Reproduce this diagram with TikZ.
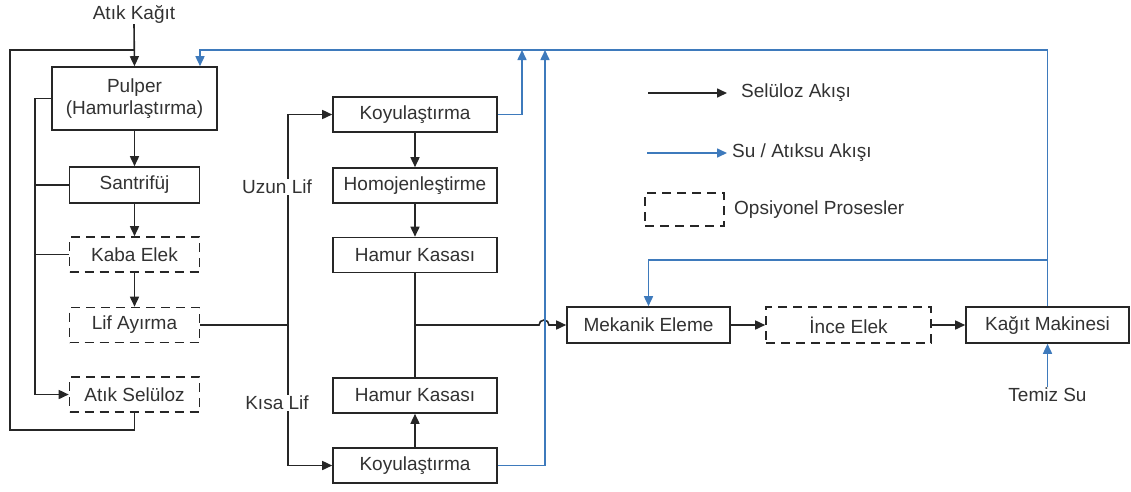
\documentclass[tikz,border=0pt]{standalone}
\usepackage{fontspec}
\setmainfont{Liberation Sans}
\usetikzlibrary{arrows.meta}
\definecolor{ink}{RGB}{38,38,38}
\definecolor{txt}{RGB}{50,50,50}
\definecolor{water}{RGB}{62,122,188}
\tikzset{
  box/.style={draw=ink, line width=1.6pt, fill=white, inner sep=0pt,
    minimum height=35pt, text=txt, font=\fontsize{19}{22}\selectfont},
  optbox/.style={box, dash pattern=on 9pt off 6pt},
  lbl/.style={text=txt, font=\fontsize{19}{22}\selectfont, inner sep=1pt},
  line/.style={draw=ink, line width=1.6pt},
  flow/.style={line, -{Triangle[length=10pt,width=9pt]}},
  wline/.style={draw=water, line width=1.6pt},
  wflow/.style={wline, -{Triangle[length=10pt,width=9pt]}},
}
\begin{document}
\begin{tikzpicture}[x=1pt,y=-1pt]
\useasboundingbox (0,0) rectangle (1131,491);

% left column
\node[lbl] (waste) at (134,14) {Atık Kağıt};
\node[box, minimum width=165pt, minimum height=63pt, align=center] (pulper) at (134.5,98.5) {Pulper\\(Hamurlaştırma)};
\node[box, minimum width=130pt, minimum height=36pt] (santri) at (134.5,185) {Santrifüj};
\node[optbox, minimum width=130pt] (kaba) at (134.5,254.5) {Kaba Elek};
\node[optbox, minimum width=130pt] (lif) at (134.5,325) {Lif Ayırma};
\node[optbox, minimum width=130pt] (atiksel) at (134.5,394.5) {Atık Selüloz};

% middle column
\node[box, minimum width=164pt] (koy1) at (415,114.5) {Koyulaştırma};
\node[box, minimum width=164pt] (homo) at (415,185.5) {Homojenleştirme};
\node[box, minimum width=164pt] (hk1) at (415,255) {Hamur Kasası};
\node[box, minimum width=164pt] (hk2) at (415,395.5) {Hamur Kasası};
\node[box, minimum width=164pt] (koy2) at (415,465.5) {Koyulaştırma};

% right row
\node[box, minimum width=163pt, minimum height=36pt] (meka) at (648.5,325) {Mekanik Eleme};
\node[optbox, minimum width=165pt, minimum height=36pt] (ince) at (848.5,325) {İnce Elek};
\node[box, minimum width=163pt, minimum height=36pt] (kagit) at (1047.5,325) {Kağıt Makinesi};
\node[lbl] (temiz) at (1047.5,395) {Temiz Su};

% helper points
\coordinate (loopb) at (10,430);
\coordinate (loopt) at (10,50);
\coordinate (split) at (288,325);
\coordinate (top) at (1047.5,50);
\coordinate (w1) at (522,50);
\coordinate (w2) at (545,50);
\coordinate (ret) at (200,50);
\coordinate (br) at (1047.5,260);

% cellulose flow, left column
\draw[flow] (waste.south) -- (pulper.north);
\draw[line] (atiksel.south) |- (loopb) -- (loopt) -- (pulper.north |- loopt);
\draw[flow] (pulper.west) -- ++(-16,0) coordinate (ib) |- (atiksel.west);
\draw[line] (santri.west) -- (santri.west -| ib);
\draw[line] (kaba.west) -- (kaba.west -| ib);
\draw[flow] (pulper.south) -- (santri.north);
\draw[flow] (santri.south) -- (kaba.north);
\draw[flow] (kaba.south) -- (lif.north);

% fibre split
\draw[line] (lif.east) -- (split);
\draw[flow] (split) |- (koy1.west);
\draw[flow] (split) |- (koy2.west);
\node[lbl, fill=white] (uzun) at (277,187) {Uzun Lif};
\node[lbl, fill=white] (kisa) at (277,403) {Kısa Lif};

% middle column flow
\draw[flow] (koy1.south) -- (homo.north);
\draw[flow] (homo.south) -- (hk1.north);
\draw[flow] (koy2.north) -- (hk2.south);
\draw[line] (hk1.south) -- (hk2.north);
\draw[flow] (hk1.south |- meka.west) -- (539,325) arc (180:360:5) -- (meka.west);

% right row flow
\draw[flow] (meka.east) -- (ince.west);
\draw[flow] (ince.east) -- (kagit.west);

% water / waste water
\draw[wflow] (koy1.east) -| (w1);
\draw[wflow] (koy2.east) -| (w2);
\draw[wflow] (kagit.north) -- (top) -- (ret) -- (pulper.north -| ret);
\draw[wflow] (br) -| (meka.north);
\draw[wflow] (temiz.north) -- (kagit.south);

% legend
\coordinate (la1) at (648,93);
\coordinate (la2) at (727,93);
\coordinate (lb1) at (647,153);
\coordinate (lb2) at (727,153);
\draw[flow] (la1) -- (la2);
\node[lbl, anchor=west] (lga) at (740,93) {Selüloz Akışı};
\draw[wflow] (lb1) -- (lb2);
\node[lbl, anchor=west] (lgb) at (731,153) {Su / Atıksu Akışı};
\node[optbox, minimum width=79pt, minimum height=33pt] (lgbox) at (684.5,209.5) {};
\node[lbl, anchor=west] (lgc) at (733,209.5) {Opsiyonel Prosesler};
\end{tikzpicture}
\end{document}
